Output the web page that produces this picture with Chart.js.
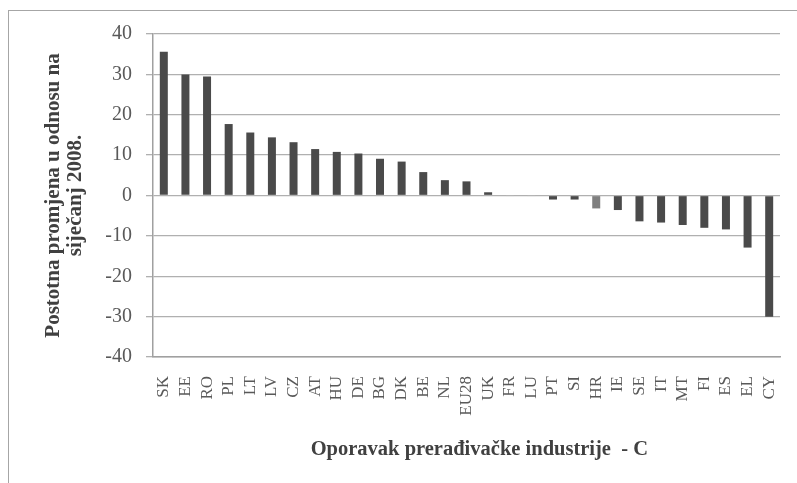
<!DOCTYPE html>
<html>
<head>
<meta charset="utf-8">
<script src="https://cdn.jsdelivr.net/npm/chart.js@4"></script>
<style>
  html, body { margin: 0; padding: 0; background: #fff; }
  #wrap { position: relative; width: 797px; height: 483px; overflow: hidden; }
  #frame { position: absolute; left: 8px; top: 10px; width: 840px; height: 520px; border: 1px solid #a6a6a6; }
  #chart { position: absolute; left: 0; top: 0; }
</style>
</head>
<body>
<div id="wrap">
  <div id="frame"></div>
  <canvas id="chart" width="797" height="483"></canvas>
</div>
<script>
const countries = ['SK', 'EE', 'RO', 'PL', 'LT', 'LV', 'CZ', 'AT', 'HU', 'DE', 'BG', 'DK', 'BE', 'NL', 'EU28',
  'UK', 'FR', 'LU', 'PT', 'SI', 'HR', 'IE', 'SE', 'IT', 'MT', 'FI', 'ES', 'EL', 'CY'];
const changePct = [35.6, 30.0, 29.5, 17.7, 15.6, 14.4, 13.2, 11.5, 10.8, 10.4, 9.1, 8.4, 5.8, 3.8, 3.5,
  0.8, -0.1, -0.1, -1.0, -1.0, -3.2, -3.6, -6.4, -6.7, -7.3, -8.0, -8.4, -12.9, -30.0];
const yTicks = [40, 30, 20, 10, 0, -10, -20, -30, -40];

const barColors = countries.map(c => {
  if (c === 'HR') return '#7f7f7f';
  if (c === 'FR' || c === 'LU') return '#d9d9d9';
  return '#4a4a4a';
});

const serif = "'Liberation Serif', 'Times New Roman', serif";
const padLeft = 43;

new Chart(document.getElementById('chart').getContext('2d'), {
  type: 'bar',
  data: {
    labels: countries,
    datasets: [{
      label: 'Oporavak',
      data: changePct,
      backgroundColor: barColors,
      barPercentage: 0.37,
      categoryPercentage: 1
    }]
  },
  options: {
    responsive: false,
    animation: false,
    layout: { padding: { left: padLeft, top: 34, right: 17, bottom: 0 } },
    plugins: { legend: { display: false }, tooltip: { enabled: false } },
    scales: {
      x: {
        afterFit: s => {
          s.height = 126;
          // keep the rotated labels from shrinking the plot area
          s.paddingLeft = 0;
          s.paddingRight = 0;
        },
        grid: { display: false, drawTicks: false },
        border: { color: '#a0a0a0', width: 1.5 },
        ticks: {
          autoSkip: false, minRotation: 90, maxRotation: 90, padding: 19,
          color: '#595959', font: { family: serif, size: 17 }
        },
        title: {
          display: true,
          // leading spaces nudge the title right, like the original
          text: '     Oporavak prerađivačke industrije  - C',
          color: '#404040',
          font: { family: serif, size: 20.5, weight: 'bold', lineHeight: 1.2 },
          padding: { top: 0, bottom: 21 }
        }
      },
      y: {
        min: -40, max: 40,
        afterFit: s => { s.width = 153 - padLeft; },
        afterBuildTicks: s => { s.ticks = yTicks.map(v => ({ value: v })); },
        grid: { color: '#b0b0b0', lineWidth: 1.3, tickLength: 7 },
        border: { color: '#a0a0a0', width: 1.5 },
        ticks: { padding: 14, color: '#595959', font: { family: serif, size: 20 } },
        title: {
          display: true,
          text: ['Postotna promjena u odnosu na', 'siječanj 2008.'],
          color: '#404040',
          font: { family: serif, size: 21, weight: 'bold', lineHeight: 1.05 },
          padding: { top: 0, bottom: 0 }
        }
      }
    }
  }
});
</script>
</body>
</html>
